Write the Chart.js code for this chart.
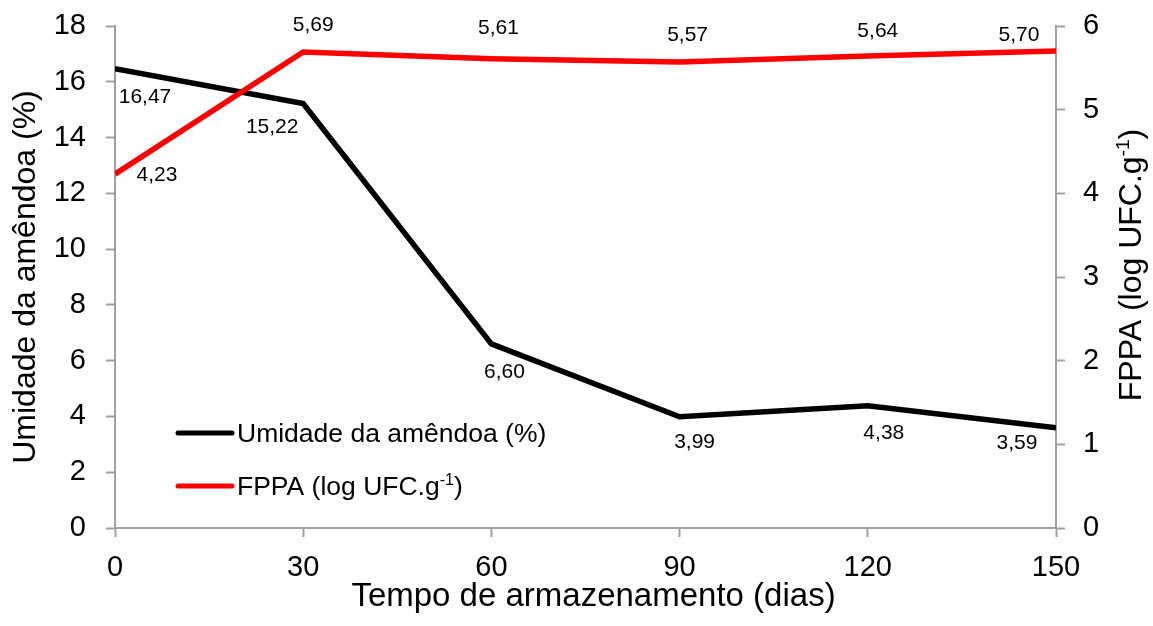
<!DOCTYPE html>
<html>
<head>
<meta charset="utf-8">
<style>
html,body{margin:0;padding:0;background:#fff;}
#wrap{width:1153px;height:626px;}
</style>
<script src="https://cdn.jsdelivr.net/npm/chart.js@4.4.1/dist/chart.umd.min.js"></script>
</head>
<body>
<div id="wrap"><canvas id="c" width="1153" height="626"></canvas></div>
<script>
// ---- data ----
const days = [0, 30, 60, 90, 120, 150];
const umidade = [16.47, 15.22, 6.60, 3.99, 4.38, 3.59];
const fppa = [4.23, 5.69, 5.61, 5.57, 5.64, 5.70];
const umidadeLabel = 'Umidade da amêndoa (%)';
const fppaLabel = 'FPPA (log UFC.g-1)';
const xTitle = 'Tempo de armazenamento (dias)';

const FONT = '"Liberation Sans", Arial, Helvetica, sans-serif';
const AXIS = '#a0a0a0';

// label offsets (pixels relative to each point)
const labelOffsets = {
  umid: [[30, 29], [-31, 24], [13, 28], [15, 25], [16, 27], [-39, 15]],
  fppa: [[42, 1], [10, -27], [7, -30], [8, -27], [10, -25], [-37, -16]]
};

function fmt(v) { return v.toFixed(2).replace('.', ','); }

function drawParts(ctx, parts, x, y, size, align) {
  const supSize = Math.round(size * 0.6);
  let total = 0;
  const widths = parts.map(p => {
    ctx.font = (p.sup ? supSize : size) + 'px ' + FONT;
    const w = ctx.measureText(p.t).width;
    total += w;
    return w;
  });
  let cx = align === 'center' ? x - total / 2 : x;
  parts.forEach((p, i) => {
    ctx.font = (p.sup ? supSize : size) + 'px ' + FONT;
    ctx.textAlign = 'left';
    ctx.textBaseline = 'alphabetic';
    ctx.fillText(p.t, cx, p.sup ? y - size * 0.38 : y);
    cx += widths[i];
  });
}

const customPlugin = {
  id: 'custom',
  afterDatasetsDraw(chart) {
    const ctx = chart.ctx;
    ctx.save();
    ctx.fillStyle = '#000';
    ctx.font = '21px ' + FONT;
    ctx.textAlign = 'center';
    ctx.textBaseline = 'middle';
    chart.data.datasets.forEach((ds, di) => {
      const meta = chart.getDatasetMeta(di);
      const offs = labelOffsets[ds.key];
      meta.data.forEach((pt, i) => {
        const v = ds.data[i].y;
        ctx.fillText(fmt(v), pt.x + offs[i][0], pt.y + offs[i][1]);
      });
    });
    const ca = chart.chartArea;
    const items = [
      {color: '#000000', parts: [{t: umidadeLabel}]},
      {color: '#ff0000', parts: [{t: 'FPPA (log UFC.g'}, {t: '-1', sup: true}, {t: ')'}]}
    ];
    const lx0 = ca.left + 63, lx1 = ca.left + 117;
    const ly = [433, 486];
    items.forEach((it, i) => {
      ctx.strokeStyle = it.color;
      ctx.lineWidth = 5;
      ctx.lineCap = 'round';
      ctx.beginPath();
      ctx.moveTo(lx0, ly[i]);
      ctx.lineTo(lx1, ly[i]);
      ctx.stroke();
      ctx.fillStyle = '#000';
      drawParts(ctx, it.parts, lx1 + 5, ly[i] + 9, 26.5, 'left');
    });
    ctx.fillStyle = '#000';
    ctx.font = '33px ' + FONT;
    ctx.textAlign = 'center';
    ctx.textBaseline = 'alphabetic';
    ctx.fillText(xTitle, (ca.left + ca.right) / 2 + 8, 606);
    ctx.save();
    ctx.translate(1141, (ca.top + ca.bottom) / 2 - 12);
    ctx.rotate(-Math.PI / 2);
    drawParts(ctx, [{t: 'FPPA (log UFC.g'}, {t: '-1', sup: true}, {t: ')'}], 0, 0, 32, 'center');
    ctx.restore();
    ctx.restore();
  }
};

const gridOpts = {
  display: true,
  drawOnChartArea: false,
  drawTicks: true,
  tickLength: 9,
  tickColor: AXIS,
  tickWidth: 2,
  color: AXIS
};
const borderOpts = {display: true, color: AXIS, width: 2};

function fitV(s) { s.width = s.position === 'left' ? 115 : 97; s.paddingTop = 0; s.paddingBottom = 0; }

new Chart(document.getElementById('c'), {
  type: 'line',
  data: {
    datasets: [
      {
        key: 'umid',
        label: umidadeLabel,
        data: days.map((d, i) => ({x: d, y: umidade[i]})),
        borderColor: '#000000',
        backgroundColor: '#000000',
        borderWidth: 5.5,
        pointRadius: 0,
        tension: 0,
        yAxisID: 'y',
        order: 2
      },
      {
        key: 'fppa',
        label: fppaLabel,
        data: days.map((d, i) => ({x: d, y: fppa[i]})),
        borderColor: '#ff0000',
        backgroundColor: '#ff0000',
        borderWidth: 5.5,
        pointRadius: 0,
        tension: 0,
        yAxisID: 'y1',
        order: 1
      }
    ]
  },
  options: {
    responsive: false,
    animation: false,
    layout: {padding: {top: 26, left: 0, right: 0, bottom: 0}},
    plugins: {
      legend: {display: false},
      tooltip: {enabled: false}
    },
    scales: {
      x: {
        type: 'linear',
        min: 0, max: 150,
        ticks: {stepSize: 30, color: '#000', font: {family: FONT, size: 29}, padding: 14, maxRotation: 0},
        grid: gridOpts,
        border: borderOpts,
        afterFit(s) { s.height = 98; s.paddingLeft = 0; s.paddingRight = 0; }
      },
      y: {
        position: 'left',
        min: 0, max: 18,
        ticks: {stepSize: 2, color: '#000', font: {family: FONT, size: 29}, padding: 20},
        grid: gridOpts,
        border: borderOpts,
        title: {display: true, text: umidadeLabel, color: '#000', font: {family: FONT, size: 32, lineHeight: 1}, padding: {top: 10, bottom: 0}},
        afterFit: fitV
      },
      y1: {
        position: 'right',
        min: 0, max: 6,
        ticks: {stepSize: 1, color: '#000', font: {family: FONT, size: 29}, padding: 18},
        grid: gridOpts,
        border: borderOpts,
        afterFit: fitV
      }
    }
  },
  plugins: [customPlugin]
});
</script>
</body>
</html>
